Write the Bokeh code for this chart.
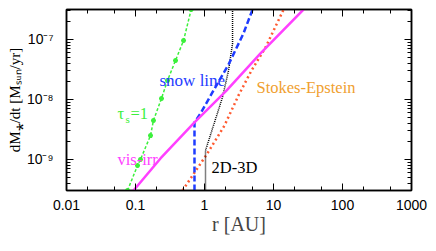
from bokeh.plotting import figure
from bokeh.models import LogAxis, FixedTicker, Label, Range1d, Title
from bokeh.embed import file_html
from bokeh.resources import INLINE

# ---------------- data ----------------
x_major = [0.01, 0.1, 1, 10, 100, 1000]
x_labels = ["0.01", "0.1", "1", "10", "100", "1000"]
y_major = [1e-9, 1e-8, 1e-7]
y_labels = ["10\u207b\u2079", "10\u207b\u2078", "10\u207b\u2077"]

tau_r = [0.0766, 0.107, 0.118, 0.165, 0.182, 0.238, 0.291, 0.380, 0.497, 0.641]
tau_m = [3.04e-10, 7.94e-10, 1.0e-9, 2.5e-9, 4.47e-9, 1.04e-8, 2.07e-8, 4.47e-8, 9.6e-8, 3.16e-7]

visirr_r = [0.0936, 0.230, 0.716, 2.08, 6.48, 27.2]
visirr_m = [3.04e-10, 1.04e-9, 4.14e-9, 1.41e-8, 5.85e-8, 3.16e-7]

snow_r = [0.716, 0.716, 0.875, 1.35, 2.23, 3.67, 4.97]
snow_m = [3.04e-10, 4.14e-9, 5.85e-9, 1.41e-8, 3.83e-8, 1.26e-7, 3.16e-7]

d23_r = [1.034, 1.034, 1.35, 1.82, 2.23, 2.55, 2.55]
d23_m = [3.04e-10, 1.41e-9, 3.69e-9, 1.08e-8, 3.04e-8, 8.58e-8, 3.16e-7]

stokes_r = [0.480, 1.10, 1.95, 3.11, 4.80, 7.66, 14.0]
stokes_m = [3.04e-10, 1.26e-9, 3.69e-9, 1.17e-8, 3.04e-8, 7.36e-8, 3.16e-7]

X_RANGE = (0.01, 1000)
Y_RANGE = (10 ** -9.517, 10 ** -6.5)

# ---------------- figure ----------------
FRAME_L, FRAME_B = 66, 190
p = figure(width=428, height=243, x_axis_type="log", y_axis_type="log",
           x_range=Range1d(*X_RANGE), y_range=Range1d(*Y_RANGE),
           output_backend="svg", toolbar_location=None,
           min_border_left=66, min_border_right=17, min_border_top=9, min_border_bottom=53)
p.background_fill_color = "white"
p.border_fill_color = "white"
p.outline_line_color = "black"
p.outline_line_width = 1.5
p.xgrid.visible = False
p.ygrid.visible = False

x_minor = [m * 10 ** e for e in range(-2, 3) for m in (2, 5)]
y_minor = [m * 10 ** e for e in range(-10, -6) for m in range(2, 10)]
xt = FixedTicker(ticks=x_major, minor_ticks=x_minor)
yt = FixedTicker(ticks=y_major, minor_ticks=y_minor)


def style(ax, show_labels):
    ax.axis_line_color = "black"
    ax.axis_line_width = 1.5
    ax.major_tick_in = 7
    ax.major_tick_out = 0
    ax.minor_tick_in = 4
    ax.minor_tick_out = 0
    ax.major_tick_line_color = "black"
    ax.minor_tick_line_color = "black"
    ax.major_tick_line_width = 1
    ax.minor_tick_line_width = 1
    ax.level = "overlay"
    if show_labels:
        ax.major_label_text_font = "Liberation Sans"
        ax.major_label_text_font_size = "14px"
        ax.major_label_text_color = "black"
    else:
        ax.major_label_text_font_size = "1px"
        ax.major_label_text_alpha = 0
        ax.major_label_standoff = 0


xa = p.xaxis[0]
xa.ticker = xt
xa.major_label_overrides = dict(zip(x_major, x_labels))
xa.major_label_standoff = 9
style(xa, True)
xa.axis_label = "r [AU]"
xa.axis_label_text_font = "Liberation Serif"
xa.axis_label_text_font_size = "20px"
xa.axis_label_text_font_style = "normal"
xa.axis_label_standoff = 0

ya = p.yaxis[0]
ya.ticker = yt
ya.major_label_overrides = dict(zip(y_major, y_labels))
ya.major_label_standoff = 13
style(ya, True)

top = LogAxis(ticker=xt)
style(top, False)
p.add_layout(top, "above")
right = LogAxis(ticker=yt)
style(right, False)
p.add_layout(right, "right")

# y axis label as a left-side title (rotated), with unicode subscripts
ytitle = Title(text="dM\u204e/dt [M\u209b\u1d64\u2099/yr]", align="center", offset=-22,
               text_font="Liberation Serif", text_font_size="15px",
               text_font_style="normal", text_color="black", standoff=2)
p.add_layout(ytitle, "left")

# ---------------- curves ----------------
p.line(stokes_r, stokes_m, line_color="#ff5a30", line_width=2.5, line_dash="2 3")
p.line(d23_r, d23_m, line_color="black", line_width=1.5, line_dash="1 1")
p.line(snow_r, snow_m, line_color="#1f3cff", line_width=2.5, line_dash="6 3")
p.line(visirr_r, visirr_m, line_color="#ff40ff", line_width=2.5)
p.line(tau_r, tau_m, line_color="#3cf03c", line_width=1.5, line_dash="3 2")
p.scatter(tau_r, tau_m, marker="asterisk", size=5, line_color="#3cf03c", line_width=1.5)


# ---------------- text ----------------
def lab(text, px, py, color, size, font="Liberation Serif"):
    # px, py: page pixel position of the text start (baseline); screen units are frame-relative
    p.add_layout(Label(x=px - FRAME_L, y=FRAME_B - py, x_units="screen", y_units="screen",
                       text=text, text_color=color, level="overlay",
                       text_font=font, text_font_size=size, text_align="left",
                       text_baseline="alphabetic"))


lab("snow line", 159, 80, "#1f3cff", "17px")
lab("Stokes-Epstein", 256, 87, "#f0a030", "16.5px")
lab("2D-3D", 211, 167, "black", "16.5px")
lab("vis-irr", 117, 159, "#ff40ff", "16.5px")
lab("\u03c4", 117, 113, "#3cf03c", "16.5px")
lab("s", 125, 118, "#3cf03c", "11px")
lab("=1", 130, 113, "#3cf03c", "16.5px")

open("out.html", "w").write(file_html(p, INLINE))
